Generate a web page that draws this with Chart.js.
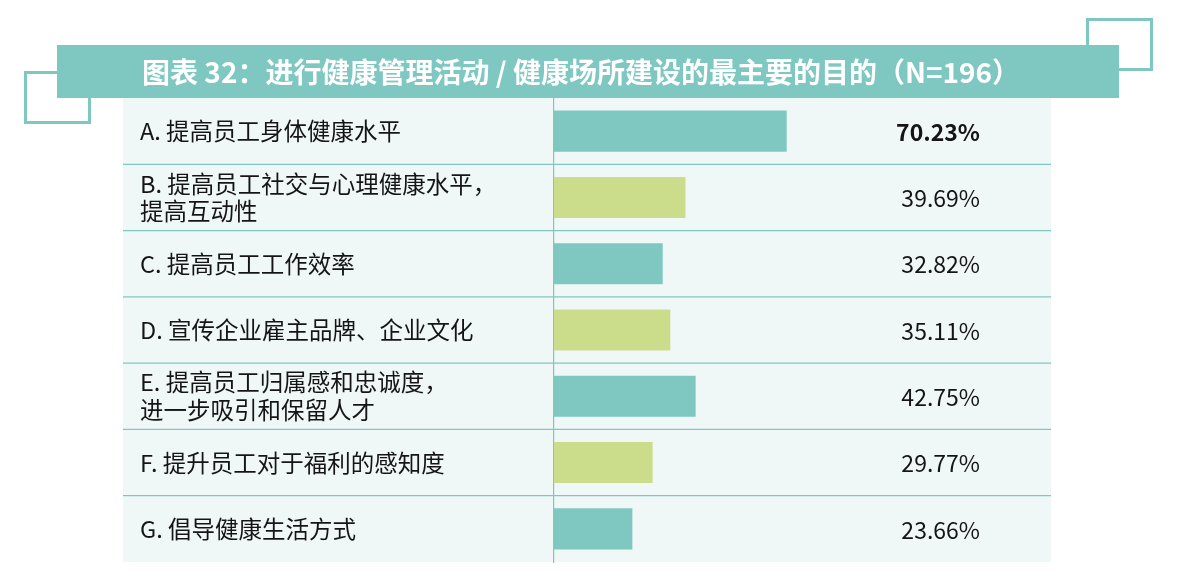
<!DOCTYPE html>
<html>
<head>
<meta charset="utf-8">
<script src="https://cdn.jsdelivr.net/npm/chart.js@4"></script>
<style>
  html, body { margin: 0; padding: 0; background: #fff; }
  #wrap { width: 1177px; height: 586px; position: relative; }
</style>
</head>
<body>
<div id="wrap"><canvas id="chart"></canvas></div>
<script>
const titleText = '图表 32：进行健康管理活动 / 健康场所建设的最主要的目的（N=196）';

const categories = [
  'A. 提高员工身体健康水平',
  ['B. 提高员工社交与心理健康水平，', '提高互动性'],
  'C. 提高员工工作效率',
  'D. 宣传企业雇主品牌、企业文化',
  ['E. 提高员工归属感和忠诚度，', '进一步吸引和保留人才'],
  'F. 提升员工对于福利的感知度',
  'G. 倡导健康生活方式'
];
const values = [70.23, 39.69, 32.82, 35.11, 42.75, 29.77, 23.66];

const teal = '#7fc8c2';
const green = '#cbdc8b';
const rowBg = '#f0f8f7';
const fontFamily = "'Noto Sans CJK SC', 'Noto Sans', sans-serif";

// bars alternate teal / green
const barColors = values.map((v, i) => (i % 2 === 0 ? teal : green));

const frame = {
  id: 'frame',
  beforeDraw(chart) {
    const { ctx, chartArea } = chart;
    ctx.save();
    // decorative outlined boxes, sitting under the title bar
    ctx.strokeStyle = teal;
    ctx.lineWidth = 3;
    ctx.strokeRect(25.5, 72.5, 64, 50);
    ctx.strokeRect(1087.5, 19.5, 64, 50);
    // title bar
    ctx.fillStyle = teal;
    ctx.fillRect(57, 45, 1062, 53);
    ctx.fillStyle = '#fff';
    ctx.font = 'bold 28px ' + fontFamily;
    ctx.textAlign = 'center';
    ctx.textBaseline = 'middle';
    ctx.fillText(titleText, 581, 72);
    // table background
    ctx.fillStyle = rowBg;
    ctx.fillRect(123, chartArea.top, chartArea.right - 123, chartArea.bottom - chartArea.top);
    ctx.restore();
  },
  beforeDatasetsDraw(chart) {
    const { ctx, chartArea } = chart;
    const y = chart.scales.y;
    ctx.save();
    ctx.strokeStyle = teal;
    ctx.lineWidth = 1.2;
    for (let i = 0; i < categories.length - 1; i++) {
      const yy = (y.getPixelForValue(i) + y.getPixelForValue(i + 1)) / 2;
      ctx.beginPath();
      ctx.moveTo(123, yy);
      ctx.lineTo(chartArea.right, yy);
      ctx.stroke();
    }
    ctx.restore();
  },
  afterDatasetsDraw(chart) {
    const { ctx, chartArea } = chart;
    const meta = chart.getDatasetMeta(0);
    const top = Math.max(...values);
    ctx.save();
    ctx.textAlign = 'right';
    ctx.textBaseline = 'middle';
    ctx.fillStyle = '#151515';
    meta.data.forEach((bar, i) => {
      ctx.font = (values[i] === top ? 'bold ' : '') + '23px ' + fontFamily;
      ctx.fillText(values[i].toFixed(2) + '%', chartArea.right - 71, bar.y + 1);
    });
    ctx.restore();
  }
};

new Chart(document.getElementById('chart'), {
  type: 'bar',
  data: {
    labels: categories,
    datasets: [{
      data: values,
      backgroundColor: barColors,
      barPercentage: 0.62,
      categoryPercentage: 1
    }]
  },
  options: {
    indexAxis: 'y',
    responsive: true,
    maintainAspectRatio: false,
    animation: false,
    layout: {
      padding: { left: 140, right: 126, top: 98, bottom: 24 }
    },
    plugins: {
      legend: { display: false },
      title: { display: false },
      tooltip: { enabled: false }
    },
    scales: {
      x: {
        display: false,
        min: 0,
        max: 150
      },
      y: {
        afterFit(scale) {
          scale.width = 414;
        },
        grid: { display: false },
        border: { display: true, color: teal, width: 1.2 },
        ticks: {
          crossAlign: 'far',
          color: '#151515',
          padding: 0,
          autoSkip: false,
          font: { family: fontFamily, size: 23.5, lineHeight: 1.17 }
        }
      }
    }
  },
  plugins: [frame]
});
</script>
</body>
</html>
